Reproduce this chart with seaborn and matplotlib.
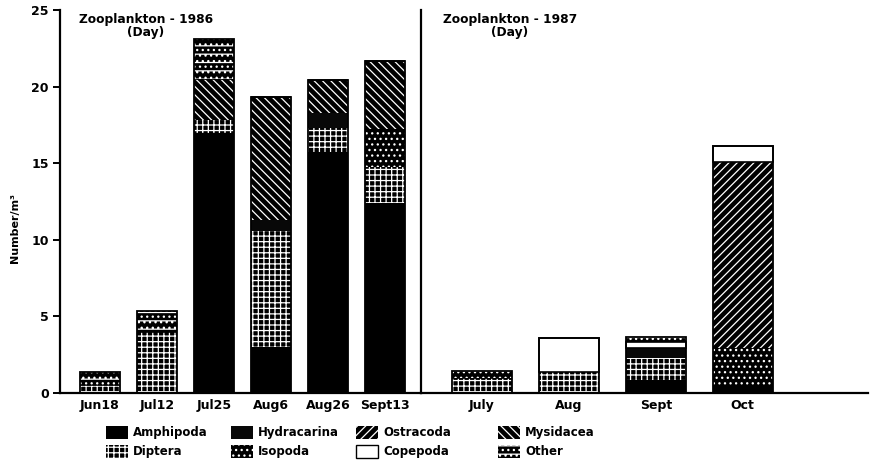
import numpy as np
import matplotlib
matplotlib.use("Agg")
import matplotlib.pyplot as plt
import matplotlib.patches as mpatches
import seaborn as sns

# ---------------- data ----------------
months_1986 = ["Jun18", "Jul12", "Jul25", "Aug6", "Aug26", "Sept13"]
months_1987 = ["July", "Aug", "Sept", "Oct"]

taxa = ["Amphipoda", "Diptera", "Isopoda", "Hydracarina",
        "Ostracoda", "Mysidacea", "Copepoda", "Other"]

amphipoda_1986 = [0.0, 0.0, 17.0, 3.0, 15.7, 12.4]
diptera_1986 = [0.5, 4.0, 0.8, 7.6, 1.6, 2.35]
isopoda_1986 = [0.0, 0.0, 0.0, 0.0, 0.0, 2.45]
hydracarina_1986 = [0.0, 0.0, 0.0, 0.7, 1.0, 0.0]
ostracoda_1986 = [0.0, 0.0, 0.0, 0.0, 0.0, 0.0]
mysidacea_1986 = [0.0, 0.0, 2.7, 8.0, 2.1, 4.5]
copepoda_1986 = [0.0, 0.0, 0.0, 0.0, 0.0, 0.0]
other_1986 = [0.9, 1.35, 2.6, 0.0, 0.0, 0.0]

amphipoda_1987 = [0.0, 0.0, 0.85, 0.55]
diptera_1987 = [1.0, 1.35, 1.45, 0.0]
isopoda_1987 = [0.0, 0.0, 0.0, 2.4]
hydracarina_1987 = [0.0, 0.0, 0.65, 0.0]
ostracoda_1987 = [0.0, 0.0, 0.0, 12.15]
mysidacea_1987 = [0.0, 0.0, 0.0, 0.0]
copepoda_1987 = [0.0, 2.25, 0.35, 1.05]
other_1987 = [0.45, 0.0, 0.35, 0.0]

legend_columns = [["Amphipoda", "Diptera"], ["Hydracarina", "Isopoda"],
                  ["Ostracoda", "Copepoda"], ["Mysidacea", "Other"]]

# ---------------- styles ----------------
styles = {
    "Amphipoda":   dict(fc="black", ec="black", hatch=None, lw=0.0),
    "Diptera":     dict(fc="black", ec="white", hatch="+++", lw=0.0),
    "Isopoda":     dict(fc="black", ec="white", hatch="...", lw=0.0),
    "Hydracarina": dict(fc="#080808", ec="#080808", hatch=None, lw=0.0),
    "Ostracoda":   dict(fc="black", ec="white", hatch="////", lw=0.0),
    "Mysidacea":   dict(fc="black", ec="white", hatch="\\\\\\\\", lw=0.0),
    "Copepoda":    dict(fc="white", ec="black", hatch=None, lw=1.2),
    "Other":       dict(fc="black", ec="white", hatch="--...", lw=0.0),
}

sns.set_style("ticks")
plt.rcParams["font.family"] = ["DejaVu Sans"]
plt.rcParams["font.weight"] = "bold"
plt.rcParams["text.color"] = "black"
plt.rcParams["xtick.color"] = "black"
plt.rcParams["ytick.color"] = "black"
plt.rcParams["axes.edgecolor"] = "black"
plt.rcParams["hatch.linewidth"] = 0.9

W, H = 872, 462
fig = plt.figure(figsize=(W / 100, H / 100), dpi=100)
bottom_f = 1 - 393 / H
height_f = (393 - 10) / H
ax1 = fig.add_axes([60 / W, bottom_f, (421 - 60) / W, height_f])
ax2 = fig.add_axes([421 / W, bottom_f, (868 - 421) / W, height_f], sharey=ax1)

data_1986 = dict(zip(taxa, [amphipoda_1986, diptera_1986, isopoda_1986, hydracarina_1986,
                            ostracoda_1986, mysidacea_1986, copepoda_1986, other_1986]))
data_1987 = dict(zip(taxa, [amphipoda_1987, diptera_1987, isopoda_1987, hydracarina_1987,
                            ostracoda_1987, mysidacea_1987, copepoda_1987, other_1987]))


def draw(ax, months, layers, width):
    bottom = np.zeros(len(months))
    for name in taxa:
        vals = np.asarray(layers[name], dtype=float)
        st = styles[name]
        sns.barplot(x=months, y=vals, bottom=bottom.copy(), ax=ax, color=st["fc"],
                    edgecolor=st["ec"], hatch=st["hatch"], linewidth=st["lw"],
                    width=width, errorbar=None, saturation=1)
        bottom = bottom + vals
    sns.barplot(x=months, y=bottom, ax=ax, fill=False, color="black",
                linewidth=1.3, width=width, errorbar=None, saturation=1)


draw(ax1, months_1986, data_1986, 0.70)
draw(ax2, months_1987, data_1987, 0.69)

ax1.set_xlim(-0.70, 5.63)
ax2.set_xlim(-0.70, 4.44)
ax1.set_ylim(0, 25)
ax1.set_yticks(range(0, 26, 5))

for ax in (ax1, ax2):
    ax.set_xlabel("")
    ax.set_ylabel("")
    ax.spines["top"].set_visible(False)
    ax.spines["right"].set_visible(False)
    ax.spines["left"].set_linewidth(1.6)
    ax.spines["bottom"].set_linewidth(1.6)
    ax.tick_params(axis="x", length=0, pad=4, labelsize=9)
    for lab in ax.get_xticklabels():
        lab.set_fontweight("bold")

ax1.tick_params(axis="y", length=5, width=1.4, labelsize=9, pad=3)
for lab in ax1.get_yticklabels():
    lab.set_fontweight("bold")
ax2.tick_params(axis="y", length=0, labelleft=False)

fig.text(146 / W, 1 - 26 / H, "Zooplankton - 1986\n(Day)", ha="center", va="center",
         fontsize=8.8, fontweight="bold", linespacing=0.95)
fig.text(510 / W, 1 - 26 / H, "Zooplankton - 1987\n(Day)", ha="center", va="center",
         fontsize=8.8, fontweight="bold", linespacing=0.95)
fig.text(15 / W, 1 - 228 / H, "Number/m³", rotation=90, ha="center", va="center",
         fontsize=8, fontweight="bold")

column_x = [106, 231, 356, 498]
for cx, names in zip(column_x, legend_columns):
    handles = []
    for name in names:
        st = styles[name]
        handles.append(mpatches.Patch(facecolor=st["fc"], edgecolor=st["ec"], hatch=st["hatch"],
                                      linewidth=1.0 if name == "Copepoda" else 0.0))
    fig.legend(handles, names, ncol=1, loc="center left",
               bbox_to_anchor=(cx / W, 1 - 442 / H), frameon=False,
               prop=dict(size=8.5, weight="bold"), handlelength=1.9, handleheight=1.3,
               labelspacing=0.45, handletextpad=0.4,
               borderaxespad=0, borderpad=0)

fig.savefig("out.png", dpi=100)
